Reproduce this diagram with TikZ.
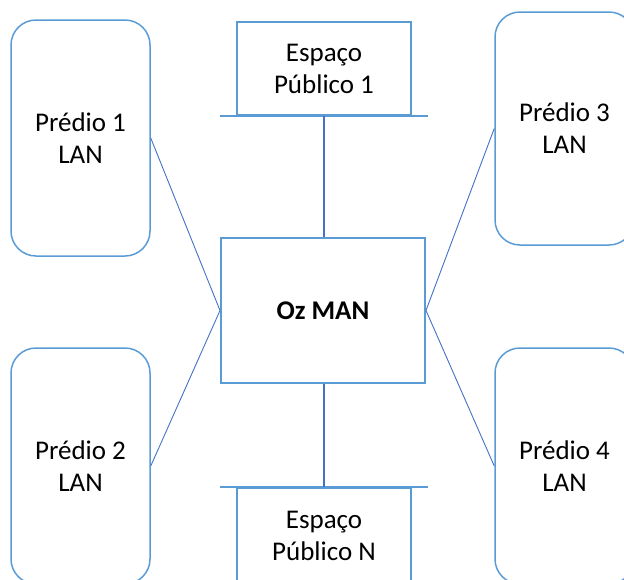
\documentclass[tikz,border=0pt]{standalone}
\usepackage{fontspec}
\setmainfont{Carlito}
\definecolor{boxblue}{RGB}{91,155,213}
\definecolor{linkblue}{RGB}{68,114,196}
\begin{document}
\begin{tikzpicture}[x=1pt,y=-1pt,
  every node/.style={font=\fontsize{27}{32}\selectfont, align=center, inner sep=0pt},
  lanbox/.style={draw=boxblue, line width=1.5pt, rounded corners=25pt,
    minimum width=139pt, minimum height=236pt},
  pubbox/.style={draw=boxblue, line width=2pt, minimum width=174pt, minimum height=93pt},
  manbox/.style={draw=boxblue, line width=2pt, minimum width=204pt, minimum height=145pt},
  bar/.style={draw=boxblue, line width=2pt},
  trunk/.style={draw=linkblue, line width=2pt},
  link/.style={draw=linkblue, line width=0.9pt}]
\useasboundingbox (0,0) rectangle (624,579);
\clip (0,0) rectangle (624,579);

% central MAN
\node[manbox] (man) at (323,310.5) {\textbf{Oz MAN}};

% building LANs
\node[lanbox] (p1) at (80.5,138) {Prédio 1\\LAN};
\node[lanbox] (p2) at (80.5,466) {Prédio 2\\LAN};
\node[lanbox, minimum height=233pt] (p3) at (564.5,128.5) {Prédio 3\\LAN};
\node[lanbox] (p4) at (564.5,466) {Prédio 4\\LAN};

% public spaces
\node[pubbox] (pub1) at (324,68.5) {Espaço\\Público 1};
\node[pubbox, minimum height=96pt] (pubN) at (324,536) {Espaço\\Público N};
\draw[bar] ([xshift=-16pt]pub1.south west) -- ([xshift=16pt]pub1.south east);
\draw[bar] ([xshift=-16pt]pubN.north west) -- ([xshift=16pt]pubN.north east);

% trunk lines
\draw[trunk] (pub1.south) -- (pub1.south |- man.north);
\draw[trunk] (pubN.north |- man.south) -- (pubN.north);

% LAN links
\draw[link] (p1.east) -- (man.west);
\draw[link] (p2.east) -- (man.west);
\draw[link] (p3.west) -- (man.east);
\draw[link] (p4.west) -- (man.east);
\end{tikzpicture}
\end{document}
